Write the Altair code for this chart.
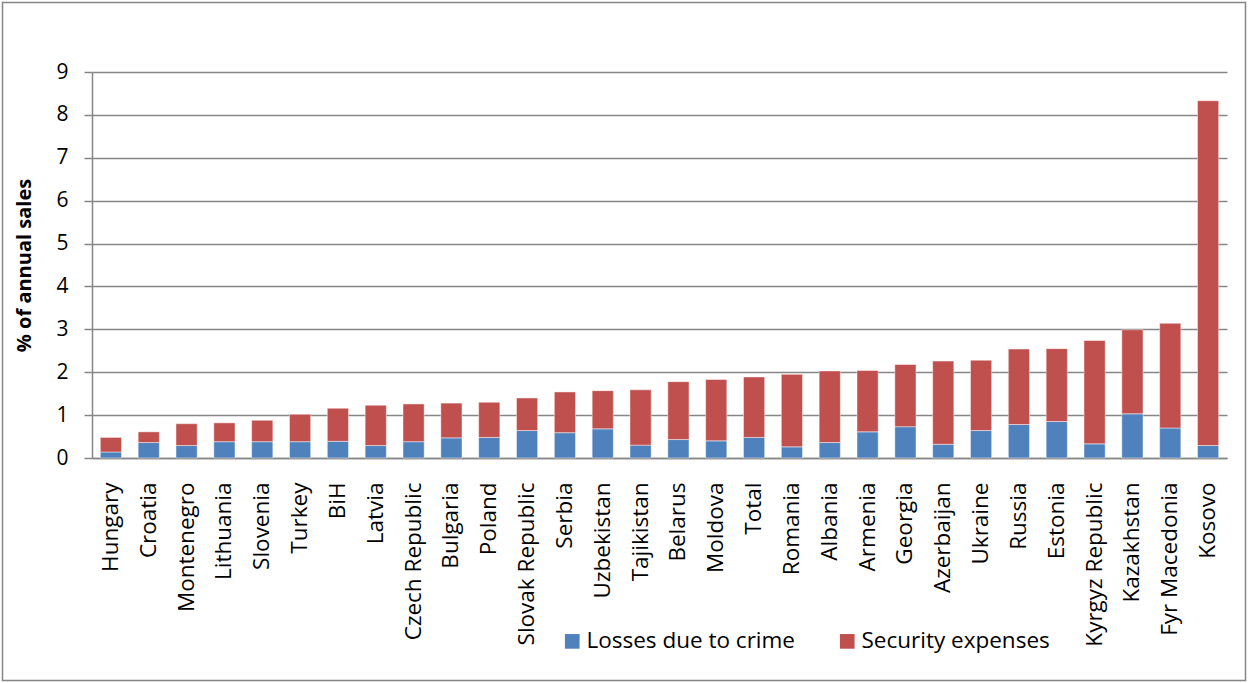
import altair as alt
import pandas as pd

countries = ["Hungary", "Croatia", "Montenegro", "Lithuania", "Slovenia", "Turkey", "BiH",
             "Latvia", "Czech Republic", "Bulgaria", "Poland", "Slovak Republic", "Serbia",
             "Uzbekistan", "Tajikistan", "Belarus", "Moldova", "Total", "Romania", "Albania",
             "Armenia", "Georgia", "Azerbaijan", "Ukraine", "Russia", "Estonia",
             "Kyrgyz Republic", "Kazakhstan", "Fyr Macedonia", "Kosovo"]
losses = [0.14, 0.36, 0.29, 0.38, 0.38, 0.38, 0.39, 0.29, 0.38, 0.47, 0.48, 0.64, 0.59,
          0.68, 0.30, 0.43, 0.40, 0.48, 0.26, 0.36, 0.61, 0.73, 0.32, 0.64, 0.78, 0.85,
          0.33, 1.03, 0.70, 0.29]
security = [0.34, 0.25, 0.51, 0.44, 0.50, 0.64, 0.77, 0.94, 0.88, 0.81, 0.82, 0.76, 0.95,
            0.89, 1.29, 1.35, 1.43, 1.41, 1.69, 1.67, 1.43, 1.45, 1.94, 1.64, 1.76, 1.70,
            2.41, 1.96, 2.44, 8.04]
series = ["Losses due to crime", "Security expenses"]
colors = ["#4F81BD", "#C0504D"]
y_ticks = [0, 1, 2, 3, 4, 5, 6, 7, 8, 9]

rows = []
for c, l, s in zip(countries, losses, security):
    rows.append({"country": c, "series": series[0], "value": l, "ord": 0})
    rows.append({"country": c, "series": series[1], "value": s, "ord": 1})
df = pd.DataFrame(rows)

W, H = 1135, 386
PL, PT = 92, 72

bars = alt.Chart(df).mark_bar(stroke="#ffffff", strokeWidth=1, strokeOpacity=0.45).encode(
    x=alt.X("country:N", sort=countries,
            scale=alt.Scale(paddingInner=0.44, paddingOuter=0.22),
            axis=alt.Axis(title=None, labelAngle=-90, labelFontSize=22.5, labelColor="#000000",
                          labelPadding=24, ticks=False, domainColor="#868686",
                          domainWidth=1.5, labelLimit=300)),
    y=alt.Y("value:Q", stack="zero",
            scale=alt.Scale(domain=[0, 9], nice=False),
            axis=alt.Axis(title="% of annual sales", values=y_ticks, format="d",
                          titleFontSize=20, titleFontWeight="bold", titleColor="#000000",
                          titleAngle=270, titleX=-68, titleY=H / 2, titleBaseline="middle",
                          titleAlign="center",
                          labelFontSize=21, labelColor="#000000", labelPadding=16,
                          tickSize=8, tickColor="#868686", tickWidth=1.5,
                          domainColor="#868686", domainWidth=1.5,
                          grid=True, gridColor="#868686", gridWidth=1.5)),
    color=alt.Color("series:N", scale=alt.Scale(domain=series, range=colors),
                    legend=alt.Legend(title=None, orient="none", direction="horizontal",
                                      legendX=469, legendY=558, symbolType="square",
                                      symbolSize=215, symbolStrokeWidth=0,
                                      labelFontSize=22.5, labelColor="#000000",
                                      labelOffset=3, columnPadding=41, labelLimit=400)),
    order=alt.Order("ord:Q"),
)

frame = alt.Chart(pd.DataFrame({"f": [0]})).mark_rect(
    fill="#ffffff", fillOpacity=0, stroke="#868686", strokeWidth=1.5
).encode(
    x=alt.value(-PL + 2.5), x2=alt.value(1245.5 - PL),
    y=alt.value(-PT + 2.5), y2=alt.value(680.5 - PT),
)

chart = alt.layer(frame, bars).properties(
    width=W, height=H,
    autosize=alt.AutoSizeParams(type="none"),
    padding={"left": PL, "top": PT, "right": 1248 - PL - W, "bottom": 683 - PT - H},
).configure(font="Open Sans").configure_view(stroke=None)

chart.save("out.html", embed_options={"renderer": "svg", "actions": False})
